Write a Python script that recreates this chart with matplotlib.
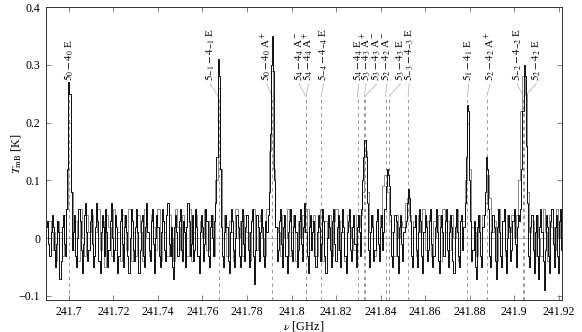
import numpy as np
import matplotlib
matplotlib.use("Agg")
import matplotlib.pyplot as plt
from matplotlib.ticker import FuncFormatter, FixedLocator

plt.rcParams['font.family'] = ['Liberation Serif', 'DejaVu Serif']
plt.rcParams['mathtext.fontset'] = 'stix'
plt.rcParams['axes.unicode_minus'] = True

# channel grids (GHz)
black_start, black_width = 241.690, 0.0005
gray_start, gray_width = 241.69025, 0.001

# spectrum 1 (black), K
spec_black = [
    0.02, 0.03, -0.01, -0.03, 0.01, 0.04, 0.02, -0.02, -0.05, -0.01, 0.03, 0.01, -0.07, -0.04, 0.02, 0.04, -0.01, -0.03, 0.05, 0.12,
    0.27, 0.25, 0.08, -0.02, 0.01, 0.04, -0.03, -0.05, 0.00, 0.05, 0.03, -0.02, -0.06, -0.01, 0.04, 0.06, 0.01, -0.04, -0.02, 0.03,
    0.05, -0.01, -0.05, -0.03, 0.02, 0.06, 0.03, -0.04, -0.06, 0.01, 0.04, 0.02, -0.03, 0.05, 0.01, -0.05, -0.02, 0.03, 0.06, 0.00,
    -0.04, -0.02, 0.04, 0.02, -0.06, -0.03, 0.03, 0.05, -0.01, -0.05, 0.02, 0.04, 0.01, -0.03, -0.06, 0.00, 0.05, 0.03, -0.02, -0.04,
    0.02, 0.05, 0.01, -0.06, -0.02, 0.03, 0.04, -0.03, -0.05, 0.02, 0.06, 0.01, -0.02, -0.04, 0.03, 0.05, -0.01, -0.06, 0.00, 0.04,
    0.02, -0.03, -0.05, 0.01, 0.05, 0.03, -0.02, -0.04, 0.04, 0.06, -0.01, -0.03, 0.02, -0.05, -0.07, 0.02, 0.04, 0.01, -0.03, 0.03,
    0.05, -0.02, -0.04, 0.03, 0.01, -0.05, 0.02, 0.06, 0.03, -0.03, -0.01, 0.04, -0.04, -0.02, 0.05, 0.02, -0.03, -0.06, 0.01, 0.04,
    0.02, -0.04, -0.01, 0.05, 0.03, -0.03, -0.05, 0.02, 0.04, 0.00, -0.03, 0.03, 0.06, 0.14, 0.31, 0.28, 0.12, 0.02, -0.03, -0.05,
    0.01, 0.04, 0.02, -0.04, -0.06, 0.01, 0.05, 0.03, -0.02, -0.05, 0.00, 0.04, 0.02, -0.03, -0.05, 0.03, 0.05, -0.01, -0.04, 0.02,
    0.04, -0.02, -0.05, 0.01, 0.03, 0.05, -0.03, -0.08, -0.02, 0.04, 0.02, -0.04, 0.01, 0.05, 0.02, -0.03, -0.05, 0.03, 0.01, 0.04,
    0.08, 0.18, 0.30, 0.35, 0.29, 0.10, 0.02, -0.04, -0.02, 0.03, 0.05, -0.01, -0.05, 0.02, 0.04, -0.03, -0.06, 0.01, 0.03, 0.05,
    -0.02, -0.04, 0.02, 0.04, 0.01, -0.05, -0.02, 0.03, 0.05, -0.01, -0.04, 0.02, 0.06, 0.01, -0.03, -0.06, 0.02, 0.04, -0.02, 0.01,
    0.03, -0.03, -0.05, 0.01, 0.04, 0.02, -0.04, -0.01, 0.05, 0.03, -0.03, -0.06, 0.00, 0.04, 0.02, -0.02, -0.05, 0.03, 0.05, -0.01,
    -0.04, 0.02, 0.04, -0.02, -0.05, 0.01, 0.05, 0.02, -0.03, -0.06, 0.01, 0.03, 0.05, -0.02, -0.04, 0.02, 0.04, -0.01, -0.05, 0.02,
    0.04, 0.01, -0.03, 0.05, 0.10, 0.14, 0.17, 0.14, 0.06, -0.02, -0.05, 0.01, 0.04, 0.02, -0.04, -0.02, 0.03, 0.05, -0.01, -0.04,
    0.02, 0.04, -0.02, 0.01, 0.05, 0.09, 0.12, 0.11, 0.09, 0.04, -0.03, -0.05, 0.01, 0.04, 0.03, -0.03, -0.06, 0.02, 0.04, -0.01,
    -0.04, 0.01, 0.02, 0.03, 0.06, 0.085, 0.07, 0.03, -0.03, -0.05, 0.02, 0.04, -0.02, -0.05, 0.01, 0.05, 0.03, -0.03, -0.06, 0.01,
    0.04, 0.02, -0.04, -0.02, 0.03, 0.05, -0.01, -0.05, -0.03, 0.02, 0.05, 0.01, -0.04, -0.06, 0.02, 0.04, 0.01, -0.03, 0.03, 0.05,
    -0.02, -0.05, 0.01, 0.04, 0.02, -0.04, -0.06, 0.02, 0.05, 0.01, -0.03, -0.05, 0.03, 0.04, -0.02, 0.02, 0.06, 0.14, 0.23, 0.22,
    0.10, 0.03, -0.04, -0.02, 0.03, -0.05, -0.07, 0.02, 0.04, 0.01, -0.03, -0.05, 0.02, 0.04, 0.08, 0.14, 0.12, 0.05, -0.03, -0.05,
    0.01, 0.04, 0.02, -0.04, -0.07, 0.02, 0.05, 0.01, -0.03, -0.05, 0.03, 0.05, -0.02, -0.06, 0.00, 0.04, 0.02, -0.04, -0.02, 0.03,
    0.05, -0.01, -0.05, 0.02, 0.04, 0.03, 0.05, 0.12, 0.22, 0.30, 0.28, 0.16, 0.06, -0.03, -0.05, 0.02, 0.04, -0.02, -0.06, 0.01,
    0.04, -0.03, -0.07, 0.02, 0.05, 0.01, -0.04, -0.09, -0.02, 0.04, 0.02, -0.03, -0.06, 0.03, 0.05, -0.01, -0.05, 0.02, 0.04, -0.03,
    -0.06, 0.03, 0.05, -0.02,
]

# spectrum 2 (gray), K
spec_gray = [
    0.00, 0.03, -0.02, 0.01, -0.04, 0.03, 0.01, -0.03, 0.04, 0.05, 0.20, 0.08, -0.02, 0.03, -0.04, 0.05, 0.00, -0.03, 0.04, 0.01,
    0.04, -0.03, 0.01, 0.05, -0.02, 0.03, -0.05, 0.04, 0.02, -0.03, 0.05, -0.02, 0.01, -0.04, 0.04, 0.02, -0.02, 0.05, -0.04, 0.01,
    -0.03, 0.04, 0.01, -0.04, 0.05, 0.00, -0.03, 0.04, 0.02, -0.02, 0.05, -0.04, 0.03, 0.01, -0.03, 0.04, 0.00, -0.04, 0.05, 0.02,
    -0.02, 0.04, 0.02, -0.03, 0.05, -0.04, 0.01, 0.04, -0.03, 0.03, 0.00, 0.05, -0.02, 0.03, 0.04, -0.03, 0.10, 0.26, 0.12, 0.00,
    0.04, -0.03, 0.03, 0.01, -0.04, 0.05, 0.00, 0.03, -0.03, 0.04, 0.01, -0.04, 0.03, 0.05, -0.02, 0.03, 0.04, 0.00, -0.03, 0.05,
    0.15, 0.29, 0.12, 0.02, 0.01, -0.03, 0.04, 0.00, 0.05, -0.03, 0.01, 0.04, -0.04, 0.03, 0.00, 0.04, 0.01, 0.05, -0.02, 0.03,
    0.04, -0.03, 0.01, 0.05, -0.04, 0.03, 0.00, 0.04, -0.03, 0.03, 0.05, -0.02, 0.03, 0.01, -0.04, 0.04, 0.02, 0.00, -0.02, 0.04,
    0.02, 0.04, 0.08, 0.15, 0.08, 0.01, 0.04, -0.03, 0.03, 0.00, 0.04, 0.09, 0.11, 0.08, 0.03, 0.01, -0.03, 0.04, 0.00, 0.03,
    0.02, 0.06, 0.07, 0.04, 0.00, 0.03, -0.03, 0.04, 0.01, 0.05, -0.02, 0.03, 0.04, -0.03, 0.03, 0.00, 0.04, -0.04, 0.05, 0.01,
    0.03, -0.02, 0.04, 0.00, 0.05, -0.04, 0.03, 0.03, 0.10, 0.20, 0.12, 0.02, 0.01, -0.03, 0.04, 0.00, 0.04, 0.06, 0.11, 0.07,
    0.01, 0.03, -0.04, 0.05, 0.00, 0.03, -0.03, 0.04, 0.01, 0.04, 0.00, 0.04, 0.10, 0.22, 0.28, 0.25, 0.08, 0.01, 0.03, -0.03,
    0.04, 0.00, -0.03, 0.05, 0.01, -0.04, 0.04, 0.02, -0.02, 0.05, 0.00, 0.03,
]

# CH3OH J=5-4 transitions
line_freqs = [241.70022, 241.76722, 241.79143, 241.80652, 241.80652, 241.81325,
              241.82964, 241.83272, 241.83291, 241.84228, 241.84370, 241.85235,
              241.87903, 241.88767, 241.90415, 241.90465]
line_labels = [r"$5_{0}-4_{0}$ E", r"$5_{-1}-4_{-1}$ E", r"$5_{0}-4_{0}$ A$^{+}$",
               r"$5_{4}-4_{4}$ A$^{-}$", r"$5_{4}-4_{4}$ A$^{+}$", r"$5_{-4}-4_{-4}$ E",
               r"$5_{4}-4_{4}$ E", r"$5_{3}-4_{3}$ A$^{+}$", r"$5_{3}-4_{3}$ A$^{-}$",
               r"$5_{2}-4_{2}$ A$^{-}$", r"$5_{3}-4_{3}$ E", r"$5_{-3}-4_{-3}$ E",
               r"$5_{1}-4_{1}$ E", r"$5_{2}-4_{2}$ A$^{+}$", r"$5_{-2}-4_{-2}$ E",
               r"$5_{2}-4_{2}$ E"]
# label anchor positions (GHz) after de-crowding
label_pos = [241.7000, 241.7634, 241.7888, 241.8034, 241.8076, 241.8144,
             241.8301, 241.8335, 241.8382, 241.8427, 241.8488, 241.8528,
             241.8796, 241.8892, 241.9013, 241.9099]

xticks = [241.70, 241.72, 241.74, 241.76, 241.78, 241.80, 241.82, 241.84, 241.86, 241.88, 241.90, 241.92]
yticks = [-0.1, 0.0, 0.1, 0.2, 0.3, 0.4]

fig = plt.figure(figsize=(5.82, 3.32), dpi=100)
ax = fig.add_axes([46/582, 1-300/332, (562-46)/582, (300-7)/332])

xmin, xmax = 241.6897, 241.9215
ymin, ymax = -0.107, 0.4
ax.set_xlim(xmin, xmax)
ax.set_ylim(ymin, ymax)

f_black = black_start + black_width * np.arange(len(spec_black))
f_gray = gray_start + gray_width * np.arange(len(spec_gray))

ax.axhline(0, color='#999999', lw=0.5, zorder=1)

y_lab = 0.272
y_knee = 0.245
for f, lp, lab in zip(line_freqs, label_pos, line_labels):
    ax.plot([f, f], [ymin, y_knee], color='#999999', lw=0.7, ls=(0, (3.5, 3.5)), zorder=1)
    ax.plot([f, lp], [y_knee, y_lab - 0.005], color='#aaaaaa', lw=0.5, zorder=1)
    ax.text(lp, y_lab, lab, rotation=90, ha='center', va='bottom', fontsize=8.0, color='black')

ax.step(f_gray, spec_gray, where='mid', color='#8a8a8a', lw=0.7, zorder=2)
ax.step(f_black, spec_black, where='mid', color='black', lw=0.65, zorder=3)

ax.xaxis.set_major_locator(FixedLocator(xticks))
ax.yaxis.set_major_locator(FixedLocator(yticks))

def fmt(v, pos):
    s = '%g' % round(v, 4)
    return s.replace('-', '\u2212')

ax.xaxis.set_major_formatter(FuncFormatter(fmt))
ax.yaxis.set_major_formatter(FuncFormatter(fmt))
ax.tick_params(direction='in', top=True, right=True, length=3.5, width=0.5,
               labelsize=8.6, color='#555555', pad=4)
for sp in ax.spines.values():
    sp.set_linewidth(0.7)
    sp.set_color('#333333')

ax.set_xlabel(r"$\nu$ [GHz]", fontsize=8.8)
ax.set_ylabel(r"$T_{\rm mB}$ [K]", fontsize=8.8)
ax.xaxis.set_label_coords(0.5, -0.066)
ax.yaxis.set_label_coords(-0.044, 0.5)

fig.savefig("out.png", dpi=100)
